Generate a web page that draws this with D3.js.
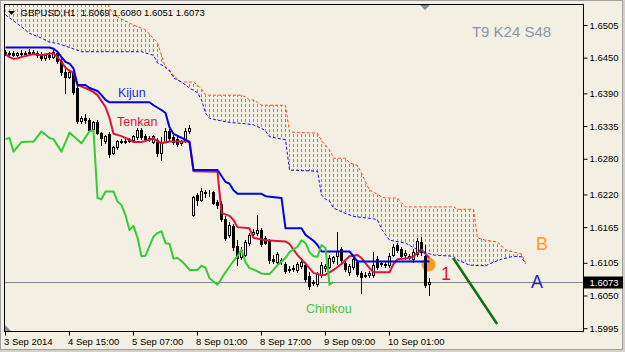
<!DOCTYPE html>
<html lang="en">
  <head>
    <meta charset="UTF-8" />
    <title>GBPUSD H1 Ichimoku</title>
    <script src="https://d3js.org/d3.v7.min.js"></script>
    <style>
      body {
        margin: 0;
        padding: 0;
        background: #d4d0c8;
        overflow: hidden;
      }
      svg {
        display: block;
        font-family: "Liberation Sans", Arial, sans-serif;
      }
    </style>
  </head>
  <body>
    <svg id="chart" width="625" height="352"></svg>

    <script>
      // H1 candles, bar 0 = 3 Sep 2014 23:00
      var openP = [1.6460,1.6457,1.6458,1.6455,1.6458,1.6456,1.6458,1.6460,1.6458,1.6454,1.6449,1.6454,1.6451,1.6458,1.6444,1.6426,1.6417,1.6426,1.6399,1.6343,1.6349,1.6345,1.6330,1.6342,1.6323,1.6310,1.6322,1.6290,1.6300,1.6310,1.6309,1.6310,1.6312,1.6317,1.6328,1.6318,1.6313,1.6308,1.6312,1.6290,1.6309,1.6327,1.6317,1.6313,1.6306,1.6310,1.6327,1.6185,1.6219,1.6211,1.6224,1.6222,1.6224,1.6207,1.6204,1.6179,1.6152,1.6167,1.6133,1.6115,1.6118,1.6138,1.6153,1.6155,1.6160,1.6147,1.6142,1.6111,1.6106,1.6110,1.6103,1.6093,1.6094,1.6093,1.6100,1.6101,1.6083,1.6071,1.6069,1.6084,1.6096,1.6098,1.6108,1.6116,1.6128,1.6105,1.6089,1.6098,1.6106,1.6088,1.6084,1.6084,1.6084,1.6111,1.6103,1.6101,1.6101,1.6118,1.6135,1.6128,1.6118,1.6115,1.6111,1.6120,1.6140,1.6116,1.6069];
      var highP = [1.6463,1.6461,1.6461,1.6460,1.6463,1.6461,1.6465,1.6463,1.6461,1.6460,1.6456,1.6460,1.6463,1.6461,1.6449,1.6436,1.6429,1.6429,1.6402,1.6352,1.6355,1.6349,1.6343,1.6345,1.6325,1.6320,1.6325,1.6301,1.6312,1.6313,1.6313,1.6315,1.6320,1.6332,1.6332,1.6322,1.6318,1.6320,1.6315,1.6317,1.6332,1.6330,1.6320,1.6318,1.6312,1.6332,1.6337,1.6217,1.6222,1.6231,1.6227,1.6227,1.6226,1.6211,1.6209,1.6184,1.6174,1.6170,1.6143,1.6132,1.6143,1.6155,1.6162,1.6185,1.6163,1.6150,1.6145,1.6118,1.6123,1.6113,1.6106,1.6100,1.6101,1.6106,1.6113,1.6106,1.6089,1.6076,1.6089,1.6106,1.6103,1.6118,1.6116,1.6157,1.6132,1.6110,1.6103,1.6115,1.6110,1.6091,1.6089,1.6091,1.6123,1.6116,1.6108,1.6106,1.6121,1.6137,1.6138,1.6132,1.6127,1.6120,1.6128,1.6147,1.6148,1.6135,1.6080];
      var lowP = [1.6454,1.6454,1.6453,1.6453,1.6454,1.6453,1.6454,1.6456,1.6451,1.6446,1.6446,1.6448,1.6449,1.6441,1.6421,1.6391,1.6416,1.6389,1.6340,1.6340,1.6340,1.6327,1.6328,1.6322,1.6303,1.6306,1.6283,1.6288,1.6296,1.6306,1.6306,1.6308,1.6308,1.6313,1.6313,1.6310,1.6310,1.6306,1.6285,1.6278,1.6309,1.6312,1.6305,1.6301,1.6303,1.6309,1.6323,1.6184,1.6202,1.6209,1.6216,1.6217,1.6204,1.6197,1.6175,1.6143,1.6148,1.6127,1.6101,1.6111,1.6116,1.6135,1.6150,1.6152,1.6133,1.6137,1.6105,1.6105,1.6105,1.6103,1.6088,1.6089,1.6091,1.6089,1.6096,1.6074,1.6061,1.6068,1.6066,1.6081,1.6091,1.6096,1.6105,1.6103,1.6106,1.6091,1.6084,1.6094,1.6083,1.6054,1.6081,1.6081,1.6081,1.6094,1.6100,1.6098,1.6098,1.6116,1.6123,1.6113,1.6111,1.6111,1.6106,1.6116,1.6118,1.6064,1.6051];
      var closeP = [1.6457,1.6458,1.6455,1.6458,1.6456,1.6458,1.6460,1.6458,1.6454,1.6449,1.6454,1.6451,1.6460,1.6444,1.6426,1.6417,1.6426,1.6392,1.6343,1.6349,1.6345,1.6328,1.6342,1.6323,1.6315,1.6318,1.6288,1.6300,1.6310,1.6309,1.6310,1.6312,1.6318,1.6328,1.6317,1.6313,1.6315,1.6318,1.6290,1.6308,1.6327,1.6315,1.6308,1.6305,1.6310,1.6327,1.6332,1.6216,1.6211,1.6226,1.6222,1.6223,1.6206,1.6202,1.6179,1.6147,1.6169,1.6132,1.6113,1.6127,1.6140,1.6152,1.6157,1.6160,1.6137,1.6138,1.6110,1.6108,1.6120,1.6108,1.6091,1.6094,1.6096,1.6103,1.6106,1.6078,1.6066,1.6073,1.6086,1.6101,1.6100,1.6113,1.6115,1.6125,1.6110,1.6094,1.6100,1.6111,1.6086,1.6081,1.6083,1.6088,1.6101,1.6098,1.6105,1.6103,1.6116,1.6132,1.6127,1.6116,1.6121,1.6116,1.6123,1.6142,1.6123,1.6068,1.6073];

      // Ichimoku lines, read as (bar, price) vertices
      var tenkanBar = [0,1,2,3,5,7,9,11,12,13,14,15,16,17,18,20,21,22,23,24,25,26,27,29,31,32,34,36,37,39,41,46,47,53,54,56,57,58,61,62,65,70,71,72,73,74,76,77,79,80,81,82,84,86,88,89,91,92,96,97,98,101,102,104,105,106];
      var tenkanPrice = [1.6456,1.6451,1.6448,1.6449,1.6453,1.6456,1.6454,1.6457,1.6457,1.6451,1.6443,1.6433,1.6428,1.6425,1.6404,1.6399,1.6396,1.6392,1.6387,1.6377,1.6367,1.6349,1.6322,1.6318,1.6312,1.6308,1.6308,1.6312,1.6314,1.6306,1.6309,1.6309,1.6259,1.6258,1.6189,1.6184,1.6177,1.6165,1.6163,1.6147,1.6143,1.6141,1.6137,1.6127,1.6118,1.6111,1.6096,1.6088,1.6084,1.6085,1.6089,1.6093,1.6103,1.6116,1.6118,1.6113,1.6096,1.6089,1.6089,1.6103,1.6111,1.6113,1.6116,1.6127,1.6120,1.6113];

      var kijunBar = [0,11,12,13,14,15,16,17,18,20,21,23,24,25,26,36,37,39,40,41,42,45,46,47,53,54,55,56,57,58,64,65,69,70,74,75,77,78,79,86,87,88,106];
      var kijunPrice = [1.6467,1.6467,1.6465,1.6460,1.6451,1.6443,1.6440,1.6432,1.6404,1.6404,1.6399,1.6394,1.6387,1.6379,1.6375,1.6375,1.6370,1.6362,1.6357,1.6333,1.6322,1.6312,1.6308,1.6261,1.6261,1.6251,1.6241,1.6238,1.6227,1.6221,1.6221,1.6217,1.6214,1.6163,1.6163,1.6152,1.6142,1.6135,1.6124,1.6124,1.6116,1.6107,1.6107];

      var chinkouBar = [0,1,2,4,7,9,11,12,14,16,19,21,22,23,24,25,27,28,29,30,31,32,33,34,35,37,38,39,40,41,42,43,44,45,46,48,49,50,51,53,55,57,58,59,60,61,62,64,65,66,67,68,70,71,73,74,75,76,77,78,79,80,81,82];
      var chinkouPrice = [1.6313,1.6315,1.6292,1.6308,1.6309,1.6326,1.6315,1.6313,1.6292,1.6324,1.6306,1.6326,1.6328,1.6214,1.6212,1.6225,1.6225,1.6208,1.6202,1.6185,1.6160,1.6167,1.6147,1.6116,1.6117,1.6149,1.6155,1.6158,1.6138,1.6137,1.6112,1.6113,1.6108,1.6101,1.6093,1.6093,1.6100,1.6097,1.6079,1.6068,1.6089,1.6108,1.6116,1.6127,1.6106,1.6096,1.6094,1.6087,1.6086,1.6086,1.6093,1.6101,1.6113,1.6123,1.6132,1.6143,1.6138,1.6123,1.6116,1.6115,1.6135,1.6130,1.6068,1.6073];

      // cloud edges (shifted 24 bars ahead)
      var spanUpperBar = [0,25,27,29,32,35,38,39,40,42,43,44,47,48,49,50,59,60,61,62,63,64,70,71,78,79,80,81,82,85,86,88,89,90,91,92,94,95,98,99,100,112,113,117,118,120,123,125,127,129,130];
      var spanUpperPrice = [1.6547,1.6547,1.6522,1.6515,1.6505,1.6497,1.6475,1.6454,1.6433,1.6421,1.6414,1.6409,1.6409,1.6404,1.6397,1.6387,1.6387,1.6384,1.6379,1.6379,1.6375,1.6370,1.6370,1.6325,1.6323,1.6310,1.6303,1.6295,1.6281,1.6281,1.6273,1.6269,1.6256,1.6241,1.6227,1.6224,1.6216,1.6214,1.6214,1.6206,1.6199,1.6199,1.6195,1.6195,1.6147,1.6143,1.6140,1.6127,1.6123,1.6120,1.6105];
      var spanLowerBar = [0,4,6,9,11,13,17,19,34,37,38,39,40,41,42,44,45,46,48,49,50,51,53,56,60,62,64,65,66,70,71,78,79,80,81,82,83,85,87,92,93,94,96,100,103,107,112,113,116,120,122,124,127,129,130];
      var spanLowerPrice = [1.6522,1.6502,1.6491,1.6483,1.6476,1.6474,1.6465,1.6460,1.6460,1.6454,1.6441,1.6438,1.6434,1.6429,1.6416,1.6409,1.6404,1.6399,1.6391,1.6379,1.6357,1.6348,1.6345,1.6341,1.6339,1.6337,1.6331,1.6327,1.6317,1.6312,1.6261,1.6259,1.6219,1.6212,1.6209,1.6197,1.6194,1.6188,1.6183,1.6179,1.6177,1.6162,1.6143,1.6138,1.6127,1.6118,1.6116,1.6110,1.6101,1.6100,1.6106,1.6111,1.6116,1.6115,1.6103];

      // axis ticks
      var yTicks = [1.6505, 1.645, 1.639, 1.6335, 1.628, 1.622, 1.6165, 1.6105, 1.605, 1.5995];
      var xTickBars = [0, 16, 32, 48, 64, 80, 96];
      var xTickLabels = ["3 Sep 2014", "4 Sep 15:00", "5 Sep 07:00", "8 Sep 01:00", "8 Sep 17:00", "9 Sep 09:00", "10 Sep 01:00"];

      var bidPrice = 1.6073;
      var header = "GBPUSD,H1  1.6069 1.6080 1.6051 1.6073";

      // drawn objects on the chart: [bar, price, text, colour, size]
      var notes = [
        [28.1, 1.6384, "Kijun", "#2a2ad6", 12.5],
        [27.9, 1.6335, "Tenkan", "#dc143c", 12.5],
        [75.1, 1.6020, "Chinkou", "#3cc83c", 12.5],
        [116.6, 1.6485, "T9 K24 S48", "#8898ac", 15],
        [108.9, 1.6076, "1", "#dc143c", 18],
        [132.6, 1.6126, "B", "#ff9a2e", 18],
        [131.4, 1.6063, "A", "#2424c8", 18]
      ];
      var trendBar = [111.9, 122.9];
      var trendPrice = [1.6113, 1.6002];
      var markBar = 105.75;
      var markPrice = 1.6102;

      var svg = d3.select("#chart");

      var x = d3.scaleLinear().domain([0, 144]).range([5.5, 581.5]);
      var y = d3.scaleLinear().domain([1.59886, 1.65403]).range([332, 4]);

      // window background and border
      svg
        .append("rect")
        .attr("x", 0.5)
        .attr("y", 0.5)
        .attr("width", 622)
        .attr("height", 349)
        .attr("fill", "#f3f0e3")
        .attr("stroke", "#a0a0a0");

      function pairs(bars, prices) {
        return bars.map(function (b, k) {
          return [b, prices[k]];
        });
      }

      var line = d3
        .line()
        .x(function (d) {
          return x(d[0]);
        })
        .y(function (d) {
          return y(d[1]);
        });

      var upper = pairs(spanUpperBar, spanUpperPrice);
      var lower = pairs(spanLowerBar, spanLowerPrice);

      var defs = svg.append("defs");
      defs
        .append("clipPath")
        .attr("id", "plot-clip")
        .append("rect")
        .attr("x", 5)
        .attr("y", 5)
        .attr("width", 578)
        .attr("height", 326);

      // cloud outline used to cut the hatch columns
      defs
        .append("clipPath")
        .attr("id", "cloud-clip")
        .append("path")
        .attr("d", line(upper.concat(lower.slice().reverse())) + "Z");

      var plot = svg.append("g").attr("clip-path", "url(#plot-clip)");

      // cloud hatch: one dotted column per bar
      plot
        .append("g")
        .attr("clip-path", "url(#cloud-clip)")
        .attr("shape-rendering", "crispEdges")
        .selectAll("line")
        .data(d3.range(spanUpperBar[0], spanUpperBar[spanUpperBar.length - 1] + 1))
        .enter()
        .append("line")
        .attr("x1", function (d) {
          return x(d);
        })
        .attr("x2", function (d) {
          return x(d);
        })
        .attr("y1", 4)
        .attr("y2", 332)
        .attr("stroke", "#ff6a35")
        .attr("stroke-width", 1)
        .attr("stroke-dasharray", "3,2");

      // bid line
      plot
        .append("line")
        .attr("x1", 4)
        .attr("x2", 584)
        .attr("y1", Math.round(y(bidPrice)) + 0.5)
        .attr("y2", Math.round(y(bidPrice)) + 0.5)
        .attr("stroke", "#778899")
        .attr("stroke-width", 1);

      // orange marker
      plot
        .append("circle")
        .attr("cx", x(markBar))
        .attr("cy", y(markPrice))
        .attr("r", 7)
        .attr("fill", "#ff9a1f");

      // candles
      var candles = openP.map(function (o, i) {
        return { i: i, o: o, h: highP[i], l: lowP[i], c: closeP[i] };
      });

      var cg = plot
        .append("g")
        .attr("shape-rendering", "crispEdges")
        .selectAll("g")
        .data(candles)
        .enter()
        .append("g");

      cg.append("line")
        .attr("x1", function (d) {
          return x(d.i);
        })
        .attr("x2", function (d) {
          return x(d.i);
        })
        .attr("y1", function (d) {
          return Math.round(y(d.h));
        })
        .attr("y2", function (d) {
          return Math.round(y(d.l)) + 1;
        })
        .attr("stroke", "#000");

      cg.append("rect")
        .attr("x", function (d) {
          return x(d.i) - 1;
        })
        .attr("y", function (d) {
          return Math.round(y(Math.max(d.o, d.c))) + 0.5;
        })
        .attr("width", 2)
        .attr("height", function (d) {
          return Math.max(
            Math.round(y(Math.min(d.o, d.c))) - Math.round(y(Math.max(d.o, d.c))),
            0
          );
        })
        .attr("fill", function (d) {
          return d.c < d.o ? "#000" : "#f3f0e3";
        })
        .attr("stroke", "#000");

      // ichimoku lines
      var lineStyles = [
        [pairs(tenkanBar, tenkanPrice), "#dc143c"],
        [pairs(kijunBar, kijunPrice), "#0000e6"],
        [pairs(chinkouBar, chinkouPrice), "#32cd32"]
      ];
      lineStyles.forEach(function (s) {
        plot
          .append("path")
          .attr("d", line(s[0]))
          .attr("fill", "none")
          .attr("stroke", s[1])
          .attr("stroke-width", 2)
          .attr("stroke-linejoin", "round");
      });

      // span edges, dotted
      plot
        .append("path")
        .attr("d", line(upper))
        .attr("fill", "none")
        .attr("stroke", "#ff4d15")
        .attr("stroke-width", 1)
        .attr("stroke-dasharray", "3,2");
      plot
        .append("path")
        .attr("d", line(lower))
        .attr("fill", "none")
        .attr("stroke", "#1010e8")
        .attr("stroke-width", 1)
        .attr("stroke-dasharray", "3,2");

      // trend line object
      plot
        .append("line")
        .attr("x1", x(trendBar[0]))
        .attr("y1", y(trendPrice[0]))
        .attr("x2", x(trendBar[1]))
        .attr("y2", y(trendPrice[1]))
        .attr("stroke", "#0f700f")
        .attr("stroke-width", 2.5);

      // text objects
      plot
        .selectAll("text.note")
        .data(notes)
        .enter()
        .append("text")
        .attr("class", "note")
        .attr("x", function (d) {
          return x(d[0]);
        })
        .attr("y", function (d) {
          return y(d[1]);
        })
        .attr("fill", function (d) {
          return d[3];
        })
        .attr("font-size", function (d) {
          return d[4] + "px";
        })
        .text(function (d) {
          return d[2];
        });

      // chart shift marker and corner mark
      svg
        .append("path")
        .attr("d", "M420,5L430,5L425,10Z")
        .attr("fill", "#7d8b9c");
      svg
        .append("path")
        .attr("d", "M5,325L5,331L11,331Z")
        .attr("fill", "#7d8b9c");

      // frame
      svg
        .append("rect")
        .attr("x", 4.5)
        .attr("y", 4.5)
        .attr("width", 579)
        .attr("height", 327)
        .attr("fill", "none")
        .attr("stroke", "#000");

      // price axis
      var yAxis = svg
        .append("g")
        .attr("transform", "translate(583.5,0)")
        .call(
          d3
            .axisRight(y)
            .tickValues(yTicks)
            .tickSize(4)
            .tickPadding(2)
            .tickFormat(d3.format(".4f"))
        );
      yAxis.select(".domain").remove();
      yAxis.selectAll("text").attr("font-size", "9.5px").attr("fill", "#000").attr("font-family", null);
      yAxis.selectAll("line").attr("stroke", "#000");

      // time axis
      var xAxis = svg
        .append("g")
        .attr("transform", "translate(0,331.5)")
        .call(
          d3
            .axisBottom(x)
            .tickValues(xTickBars)
            .tickSize(4)
            .tickPadding(3)
            .offset(0)
            .tickFormat(function (d, k) {
              return xTickLabels[k];
            })
        );
      xAxis.select(".domain").remove();
      xAxis
        .selectAll("text")
        .attr("font-size", "9.5px")
        .attr("fill", "#000")
        .attr("font-family", null)
        .attr("text-anchor", "start")
        .attr("x", -1.5);
      xAxis.selectAll("line").attr("stroke", "#000");

      // bid price label
      var bidY = Math.round(y(bidPrice)) + 0.5;
      svg
        .append("rect")
        .attr("x", 584)
        .attr("y", bidY - 6)
        .attr("width", 39)
        .attr("height", 12)
        .attr("fill", "#000");
      svg
        .append("text")
        .attr("x", 589.5)
        .attr("y", bidY)
        .attr("dy", "0.35em")
        .attr("font-size", "9.5px")
        .attr("fill", "#fff")
        .text(d3.format(".4f")(bidPrice));

      // header
      svg
        .append("path")
        .attr("d", "M8,11L15,11L11.5,15Z")
        .attr("fill", "#000");
      svg
        .append("text")
        .attr("x", 20.5)
        .attr("y", 15.5)
        .attr("font-size", "9.5px")
        .attr("fill", "#000")
        .attr("xml:space", "preserve")
        .text(header);
    </script>
  </body>
